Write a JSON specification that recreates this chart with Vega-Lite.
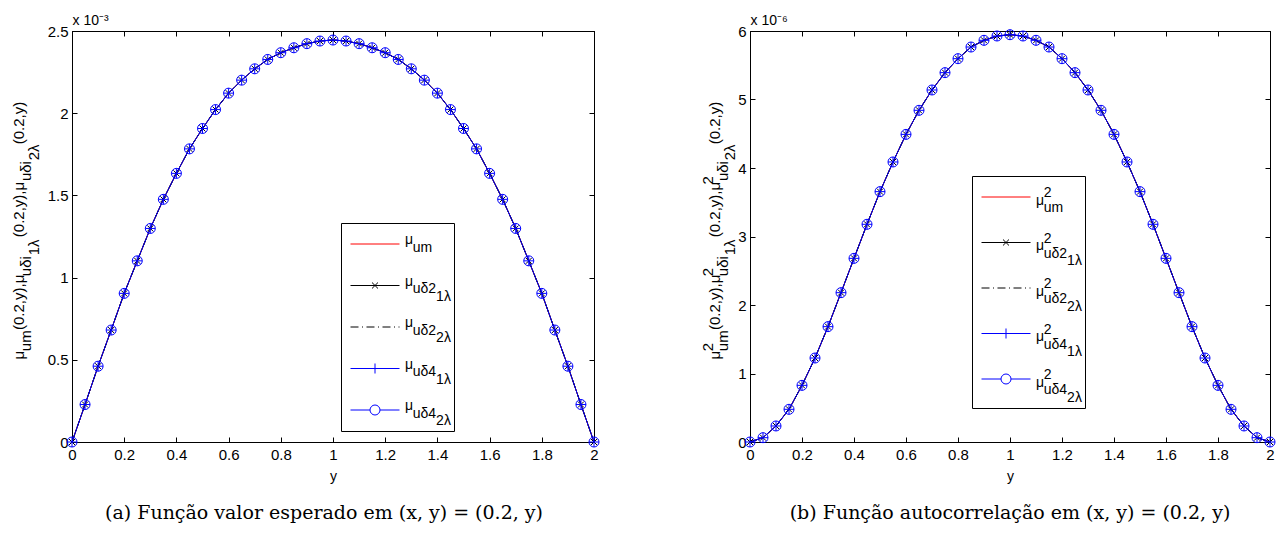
{
  "$schema": "https://vega.github.io/schema/vega-lite/v6.json",
  "background": "white",
  "padding": {"left": 10, "top": 12, "right": 5, "bottom": 5},
  "spacing": 97,
  "datasets": {
    "pts": [
      {"y": 0, "m": 0, "m2": 0},
      {"y": 0.05, "m": 0.228, "m2": 0.063},
      {"y": 0.1, "m": 0.461, "m2": 0.234},
      {"y": 0.15, "m": 0.681, "m2": 0.477},
      {"y": 0.2, "m": 0.904, "m2": 0.827},
      {"y": 0.25, "m": 1.102, "m2": 1.226},
      {"y": 0.3, "m": 1.299, "m2": 1.684},
      {"y": 0.35, "m": 1.476, "m2": 2.18},
      {"y": 0.4, "m": 1.634, "m2": 2.681},
      {"y": 0.45, "m": 1.783, "m2": 3.178},
      {"y": 0.5, "m": 1.907, "m2": 3.655},
      {"y": 0.55, "m": 2.022, "m2": 4.088},
      {"y": 0.6, "m": 2.122, "m2": 4.491},
      {"y": 0.65, "m": 2.201, "m2": 4.842},
      {"y": 0.7, "m": 2.27, "m2": 5.139},
      {"y": 0.75, "m": 2.327, "m2": 5.392},
      {"y": 0.8, "m": 2.368, "m2": 5.596},
      {"y": 0.85, "m": 2.398, "m2": 5.766},
      {"y": 0.9, "m": 2.423, "m2": 5.864},
      {"y": 0.95, "m": 2.439, "m2": 5.927},
      {"y": 1.0, "m": 2.445, "m2": 5.946},
      {"y": 1.05, "m": 2.439, "m2": 5.927},
      {"y": 1.1, "m": 2.423, "m2": 5.864},
      {"y": 1.15, "m": 2.398, "m2": 5.766},
      {"y": 1.2, "m": 2.368, "m2": 5.596},
      {"y": 1.25, "m": 2.327, "m2": 5.392},
      {"y": 1.3, "m": 2.27, "m2": 5.139},
      {"y": 1.35, "m": 2.201, "m2": 4.842},
      {"y": 1.4, "m": 2.122, "m2": 4.491},
      {"y": 1.45, "m": 2.022, "m2": 4.088},
      {"y": 1.5, "m": 1.907, "m2": 3.655},
      {"y": 1.55, "m": 1.783, "m2": 3.178},
      {"y": 1.6, "m": 1.634, "m2": 2.681},
      {"y": 1.65, "m": 1.476, "m2": 2.18},
      {"y": 1.7, "m": 1.299, "m2": 1.684},
      {"y": 1.75, "m": 1.102, "m2": 1.226},
      {"y": 1.8, "m": 0.904, "m2": 0.827},
      {"y": 1.85, "m": 0.681, "m2": 0.477},
      {"y": 1.9, "m": 0.461, "m2": 0.234},
      {"y": 1.95, "m": 0.228, "m2": 0.063},
      {"y": 2.0, "m": 0, "m2": 0}
    ]
  },
  "hconcat": [
    {
      "width": 522,
      "height": 411,
      "title": {"text": "(a) Função valor esperado em (x, y) = (0.2, y)", "orient": "bottom", "anchor": "middle", "offset": 21, "dx": -9},
      "resolve": {"axis": {"x": "independent", "y": "independent"}},
      "layer": [
        {
          "data": {"values": []},
          "mark": {"type": "point", "filled": false, "opacity": 1},
          "encoding": {
            "shape": {"field": "s", "type": "nominal",
              "scale": {"domain": ["a", "b", "c", "d", "e"],
                "range": ["M-0.657,0H2.143",
                  "M-0.657,0H2.143M0.571,-0.171L0.914,0.171M0.571,0.171L0.914,-0.171",
                  "M-0.657,0H-0.2M0,0H0.057M0.257,0H0.714M0.914,0H0.971M1.171,0H1.629M1.829,0H1.886M2.086,0H2.143",
                  "M-0.657,0H2.143M0.743,-0.286V0.286",
                  "M-0.657,0H0.457M1.029,0H2.143M1.029,0A0.286,0.286 0 1,1 0.457,0A0.286,0.286 0 1,1 1.029,0"]},
              "legend": {"orient": "none", "legendX": 269, "legendY": 192, "title": null, "padding": 3, "strokeColor": "black", "fillColor": "white", "symbolSize": 1225, "symbolStrokeWidth": 1, "labelFont": "Liberation Sans", "labelFontSize": 14, "labelColor": "black", "labelOffset": 25, "labelLimit": 300, "rowPadding": 5.5, "labelBaseline": "alphabetic",
                "labelExpr": "datum.label=='a'?['μ','\u200b\u00a0\u00a0um','']:datum.label=='b'?['μ','\u200b\u00a0\u00a0uδ2','\u200b\u00a0\u00a0\u00a0\u00a0\u00a0\u00a0\u00a0\u00a01λ']:datum.label=='c'?['μ','\u200b\u00a0\u00a0uδ2','\u200b\u00a0\u00a0\u00a0\u00a0\u00a0\u00a0\u00a0\u00a02λ']:datum.label=='d'?['μ','\u200b\u00a0\u00a0uδ4','\u200b\u00a0\u00a0\u00a0\u00a0\u00a0\u00a0\u00a0\u00a01λ']:['μ','\u200b\u00a0\u00a0uδ4','\u200b\u00a0\u00a0\u00a0\u00a0\u00a0\u00a0\u00a0\u00a02λ']"}
            },
            "stroke": {"field": "s", "type": "nominal",
              "scale": {"domain": ["a", "b", "c", "d", "e"], "range": ["#ff0000", "#000000", "#000000", "#0000ff", "#0000ff"]},
              "legend": {"orient": "none", "legendX": 269, "legendY": 192, "title": null, "padding": 3, "strokeColor": "black", "fillColor": "white", "symbolSize": 1225, "symbolStrokeWidth": 1, "labelFont": "Liberation Sans", "labelFontSize": 14, "labelColor": "black", "labelOffset": 25, "labelLimit": 300, "rowPadding": 5.5, "labelBaseline": "alphabetic",
                "labelExpr": "datum.label=='a'?['μ','\u200b\u00a0\u00a0um','']:datum.label=='b'?['μ','\u200b\u00a0\u00a0uδ2','\u200b\u00a0\u00a0\u00a0\u00a0\u00a0\u00a0\u00a0\u00a01λ']:datum.label=='c'?['μ','\u200b\u00a0\u00a0uδ2','\u200b\u00a0\u00a0\u00a0\u00a0\u00a0\u00a0\u00a0\u00a02λ']:datum.label=='d'?['μ','\u200b\u00a0\u00a0uδ4','\u200b\u00a0\u00a0\u00a0\u00a0\u00a0\u00a0\u00a0\u00a01λ']:['μ','\u200b\u00a0\u00a0uδ4','\u200b\u00a0\u00a0\u00a0\u00a0\u00a0\u00a0\u00a0\u00a02λ']"}
            }
          }
        },
        {
          "data": {"name": "pts"},
          "mark": {"type": "line", "color": "#ff0000", "strokeWidth": 1},
          "encoding": {
            "x": {"field": "y", "type": "quantitative", "scale": {"domain": [0, 2], "nice": false},
              "axis": {"orient": "bottom", "values": [0, 0.2, 0.4, 0.6, 0.8, 1, 1.2, 1.4, 1.6, 1.8, 2], "format": "~g", "labelFlush": false, "labelOverlap": false, "labelPadding": 10, "title": "y", "titlePadding": 7}},
            "y": {"field": "m", "type": "quantitative", "scale": {"domain": [0, 2.5], "nice": false},
              "axis": {"orient": "left", "values": [0, 0.5, 1, 1.5, 2, 2.5], "format": "~g", "labelFlush": false, "labelOverlap": false, "labelPadding": 9,
                "title": ["μ\u00a0\u00a0\u00a0\u00a0\u00a0(0.2,y),μ\u00a0\u00a0\u00a0\u00a0\u00a0\u00a0\u00a0\u00a0\u00a0(0.2,y),μ\u00a0\u00a0\u00a0\u00a0\u00a0\u00a0\u00a0\u00a0\u00a0(0.2,y)",
                  "\u200b\u00a0\u00a0um\u00a0\u00a0\u00a0\u00a0\u00a0\u00a0\u00a0\u00a0\u00a0\u00a0\u00a0\u00a0\u00a0uδi\u00a0\u00a0\u00a0\u00a0\u00a0\u00a0\u00a0\u00a0\u00a0\u00a0\u00a0\u00a0\u00a0\u00a0\u00a0\u00a0\u00a0\u00a0uδi",
                  "\u200b\u00a0\u00a0\u00a0\u00a0\u00a0\u00a0\u00a0\u00a0\u00a0\u00a0\u00a0\u00a0\u00a0\u00a0\u00a0\u00a0\u00a0\u00a0\u00a0\u00a0\u00a0\u00a0\u00a0\u00a0\u00a01λ\u00a0\u00a0\u00a0\u00a0\u00a0\u00a0\u00a0\u00a0\u00a0\u00a0\u00a0\u00a0\u00a0\u00a0\u00a0\u00a0\u00a0\u00a0\u00a02λ"],
                "titleAngle": 270, "titleAlign": "left", "titleBaseline": "middle", "titleX": -54, "titleY": 328, "titleLineHeight": 7.5, "titleFontSize": 15}}
          }
        },
        {
          "data": {"name": "pts"},
          "mark": {"type": "line", "color": "#000000", "strokeWidth": 1},
          "encoding": {
            "x": {"field": "y", "type": "quantitative", "scale": {"domain": [0, 2], "nice": false},
              "axis": {"orient": "top", "values": [0, 0.2, 0.4, 0.6, 0.8, 1, 1.2, 1.4, 1.6, 1.8, 2], "labels": false, "title": "x 10⁻³", "titleX": 0, "titleY": -7, "titleAlign": "left", "titleBaseline": "alphabetic", "titleAngle": 0, "titleFontSize": 14}},
            "y": {"field": "m", "type": "quantitative", "scale": {"domain": [0, 2.5], "nice": false},
              "axis": {"orient": "right", "values": [0, 0.5, 1, 1.5, 2, 2.5], "labels": false, "title": null}}
          }
        },
        {
          "data": {"name": "pts"},
          "mark": {"type": "point", "shape": "M-1,-1L1,1M-1,1L1,-1", "filled": false, "color": "#000000", "size": 36, "strokeWidth": 1, "opacity": 1},
          "encoding": {
            "x": {"field": "y", "type": "quantitative", "scale": {"domain": [0, 2], "nice": false}, "axis": null},
            "y": {"field": "m", "type": "quantitative", "scale": {"domain": [0, 2.5], "nice": false}, "axis": null}
          }
        },
        {
          "data": {"name": "pts"},
          "mark": {"type": "line", "color": "#000000", "strokeWidth": 1, "strokeDash": [8, 3.5, 1, 3.5]},
          "encoding": {
            "x": {"field": "y", "type": "quantitative", "scale": {"domain": [0, 2], "nice": false}, "axis": null},
            "y": {"field": "m", "type": "quantitative", "scale": {"domain": [0, 2.5], "nice": false}, "axis": null}
          }
        },
        {
          "data": {"name": "pts"},
          "mark": {"type": "line", "color": "#0000ff", "strokeWidth": 1},
          "encoding": {
            "x": {"field": "y", "type": "quantitative", "scale": {"domain": [0, 2], "nice": false}, "axis": null},
            "y": {"field": "m", "type": "quantitative", "scale": {"domain": [0, 2.5], "nice": false}, "axis": null}
          }
        },
        {
          "data": {"name": "pts"},
          "mark": {"type": "point", "shape": "M-1,0H1M0,-1V1", "filled": false, "color": "#0000ff", "size": 100, "strokeWidth": 1, "opacity": 1},
          "encoding": {
            "x": {"field": "y", "type": "quantitative", "scale": {"domain": [0, 2], "nice": false}, "axis": null},
            "y": {"field": "m", "type": "quantitative", "scale": {"domain": [0, 2.5], "nice": false}, "axis": null}
          }
        },
        {
          "data": {"name": "pts"},
          "mark": {"type": "point", "shape": "circle", "filled": false, "color": "#0000ff", "size": 100, "strokeWidth": 1, "opacity": 1},
          "encoding": {
            "x": {"field": "y", "type": "quantitative", "scale": {"domain": [0, 2], "nice": false}, "axis": null},
            "y": {"field": "m", "type": "quantitative", "scale": {"domain": [0, 2.5], "nice": false}, "axis": null}
          }
        }
      ]
    },
    {
      "width": 520,
      "height": 411,
      "title": {"text": "(b) Função autocorrelação em (x, y) = (0.2, y)", "orient": "bottom", "anchor": "middle", "offset": 21, "dx": 0},
      "resolve": {"axis": {"x": "independent", "y": "independent"}},
      "layer": [
        {
          "data": {"values": []},
          "mark": {"type": "point", "filled": false, "opacity": 1},
          "encoding": {
            "shape": {"field": "t", "type": "nominal",
              "scale": {"domain": ["a", "b", "c", "d", "e"],
                "range": ["M-0.657,0H2.143",
                  "M-0.657,0H2.143M0.571,-0.171L0.914,0.171M0.571,0.171L0.914,-0.171",
                  "M-0.657,0H-0.2M0,0H0.057M0.257,0H0.714M0.914,0H0.971M1.171,0H1.629M1.829,0H1.886M2.086,0H2.143",
                  "M-0.657,0H2.143M0.743,-0.286V0.286",
                  "M-0.657,0H0.457M1.029,0H2.143M1.029,0A0.286,0.286 0 1,1 0.457,0A0.286,0.286 0 1,1 1.029,0"]},
              "legend": {"orient": "none", "legendX": 222, "legendY": 145, "title": null, "padding": 3, "strokeColor": "black", "fillColor": "white", "symbolSize": 1225, "symbolStrokeWidth": 1, "labelFont": "Liberation Sans", "labelFontSize": 14, "labelColor": "black", "labelOffset": 25, "labelLimit": 300, "rowPadding": 1.5, "labelBaseline": "alphabetic",
                "labelExpr": "datum.label=='a'?['\u200b\u00a0\u00a02','μ','\u200b\u00a0\u00a0um','']:datum.label=='b'?['\u200b\u00a0\u00a02','μ','\u200b\u00a0\u00a0uδ2','\u200b\u00a0\u00a0\u00a0\u00a0\u00a0\u00a0\u00a0\u00a01λ']:datum.label=='c'?['\u200b\u00a0\u00a02','μ','\u200b\u00a0\u00a0uδ2','\u200b\u00a0\u00a0\u00a0\u00a0\u00a0\u00a0\u00a0\u00a02λ']:datum.label=='d'?['\u200b\u00a0\u00a02','μ','\u200b\u00a0\u00a0uδ4','\u200b\u00a0\u00a0\u00a0\u00a0\u00a0\u00a0\u00a0\u00a01λ']:['\u200b\u00a0\u00a02','μ','\u200b\u00a0\u00a0uδ4','\u200b\u00a0\u00a0\u00a0\u00a0\u00a0\u00a0\u00a0\u00a02λ']"}
            },
            "stroke": {"field": "t", "type": "nominal",
              "scale": {"domain": ["a", "b", "c", "d", "e"], "range": ["#ff0000", "#000000", "#000000", "#0000ff", "#0000ff"]},
              "legend": {"orient": "none", "legendX": 222, "legendY": 145, "title": null, "padding": 3, "strokeColor": "black", "fillColor": "white", "symbolSize": 1225, "symbolStrokeWidth": 1, "labelFont": "Liberation Sans", "labelFontSize": 14, "labelColor": "black", "labelOffset": 25, "labelLimit": 300, "rowPadding": 1.5, "labelBaseline": "alphabetic",
                "labelExpr": "datum.label=='a'?['\u200b\u00a0\u00a02','μ','\u200b\u00a0\u00a0um','']:datum.label=='b'?['\u200b\u00a0\u00a02','μ','\u200b\u00a0\u00a0uδ2','\u200b\u00a0\u00a0\u00a0\u00a0\u00a0\u00a0\u00a0\u00a01λ']:datum.label=='c'?['\u200b\u00a0\u00a02','μ','\u200b\u00a0\u00a0uδ2','\u200b\u00a0\u00a0\u00a0\u00a0\u00a0\u00a0\u00a0\u00a02λ']:datum.label=='d'?['\u200b\u00a0\u00a02','μ','\u200b\u00a0\u00a0uδ4','\u200b\u00a0\u00a0\u00a0\u00a0\u00a0\u00a0\u00a0\u00a01λ']:['\u200b\u00a0\u00a02','μ','\u200b\u00a0\u00a0uδ4','\u200b\u00a0\u00a0\u00a0\u00a0\u00a0\u00a0\u00a0\u00a02λ']"}
            }
          }
        },
        {
          "data": {"name": "pts"},
          "mark": {"type": "line", "color": "#ff0000", "strokeWidth": 1},
          "encoding": {
            "x": {"field": "y", "type": "quantitative", "scale": {"domain": [0, 2], "nice": false},
              "axis": {"orient": "bottom", "values": [0, 0.2, 0.4, 0.6, 0.8, 1, 1.2, 1.4, 1.6, 1.8, 2], "format": "~g", "labelFlush": false, "labelOverlap": false, "labelPadding": 10, "title": "y", "titlePadding": 7}},
            "y": {"field": "m2", "type": "quantitative", "scale": {"domain": [0, 6], "nice": false},
              "axis": {"orient": "left", "values": [0, 1, 2, 3, 4, 5, 6], "format": "~g", "labelFlush": false, "labelOverlap": false, "labelPadding": 9,
                "title": ["\u200b\u00a0\u00a02\u00a0\u00a0\u00a0\u00a0\u00a0\u00a0\u00a0\u00a0\u00a0\u00a0\u00a0\u00a0\u00a0\u00a0\u00a0\u00a02\u00a0\u00a0\u00a0\u00a0\u00a0\u00a0\u00a0\u00a0\u00a0\u00a0\u00a0\u00a0\u00a0\u00a0\u00a0\u00a0\u00a0\u00a0\u00a0\u00a02",
                  "μ\u00a0\u00a0\u00a0\u00a0\u00a0(0.2,y),μ\u00a0\u00a0\u00a0\u00a0\u00a0\u00a0\u00a0\u00a0\u00a0(0.2,y),μ\u00a0\u00a0\u00a0\u00a0\u00a0\u00a0\u00a0\u00a0\u00a0(0.2,y)",
                  "\u200b\u00a0\u00a0um\u00a0\u00a0\u00a0\u00a0\u00a0\u00a0\u00a0\u00a0\u00a0\u00a0\u00a0\u00a0\u00a0uδi\u00a0\u00a0\u00a0\u00a0\u00a0\u00a0\u00a0\u00a0\u00a0\u00a0\u00a0\u00a0\u00a0\u00a0\u00a0\u00a0\u00a0\u00a0uδi",
                  "\u200b\u00a0\u00a0\u00a0\u00a0\u00a0\u00a0\u00a0\u00a0\u00a0\u00a0\u00a0\u00a0\u00a0\u00a0\u00a0\u00a0\u00a0\u00a0\u00a0\u00a0\u00a0\u00a0\u00a0\u00a0\u00a01λ\u00a0\u00a0\u00a0\u00a0\u00a0\u00a0\u00a0\u00a0\u00a0\u00a0\u00a0\u00a0\u00a0\u00a0\u00a0\u00a0\u00a0\u00a0\u00a02λ"],
                "titleAngle": 270, "titleAlign": "left", "titleBaseline": "middle", "titleX": -43, "titleY": 328, "titleLineHeight": 7.5, "titleFontSize": 15}}
          }
        },
        {
          "data": {"name": "pts"},
          "mark": {"type": "line", "color": "#000000", "strokeWidth": 1},
          "encoding": {
            "x": {"field": "y", "type": "quantitative", "scale": {"domain": [0, 2], "nice": false},
              "axis": {"orient": "top", "values": [0, 0.2, 0.4, 0.6, 0.8, 1, 1.2, 1.4, 1.6, 1.8, 2], "labels": false, "title": "x 10⁻⁶", "titleX": 0, "titleY": -7, "titleAlign": "left", "titleBaseline": "alphabetic", "titleAngle": 0, "titleFontSize": 14}},
            "y": {"field": "m2", "type": "quantitative", "scale": {"domain": [0, 6], "nice": false},
              "axis": {"orient": "right", "values": [0, 1, 2, 3, 4, 5, 6], "labels": false, "title": null}}
          }
        },
        {
          "data": {"name": "pts"},
          "mark": {"type": "point", "shape": "M-1,-1L1,1M-1,1L1,-1", "filled": false, "color": "#000000", "size": 36, "strokeWidth": 1, "opacity": 1},
          "encoding": {
            "x": {"field": "y", "type": "quantitative", "scale": {"domain": [0, 2], "nice": false}, "axis": null},
            "y": {"field": "m2", "type": "quantitative", "scale": {"domain": [0, 6], "nice": false}, "axis": null}
          }
        },
        {
          "data": {"name": "pts"},
          "mark": {"type": "line", "color": "#000000", "strokeWidth": 1, "strokeDash": [8, 3.5, 1, 3.5]},
          "encoding": {
            "x": {"field": "y", "type": "quantitative", "scale": {"domain": [0, 2], "nice": false}, "axis": null},
            "y": {"field": "m2", "type": "quantitative", "scale": {"domain": [0, 6], "nice": false}, "axis": null}
          }
        },
        {
          "data": {"name": "pts"},
          "mark": {"type": "line", "color": "#0000ff", "strokeWidth": 1},
          "encoding": {
            "x": {"field": "y", "type": "quantitative", "scale": {"domain": [0, 2], "nice": false}, "axis": null},
            "y": {"field": "m2", "type": "quantitative", "scale": {"domain": [0, 6], "nice": false}, "axis": null}
          }
        },
        {
          "data": {"name": "pts"},
          "mark": {"type": "point", "shape": "M-1,0H1M0,-1V1", "filled": false, "color": "#0000ff", "size": 100, "strokeWidth": 1, "opacity": 1},
          "encoding": {
            "x": {"field": "y", "type": "quantitative", "scale": {"domain": [0, 2], "nice": false}, "axis": null},
            "y": {"field": "m2", "type": "quantitative", "scale": {"domain": [0, 6], "nice": false}, "axis": null}
          }
        },
        {
          "data": {"name": "pts"},
          "mark": {"type": "point", "shape": "circle", "filled": false, "color": "#0000ff", "size": 100, "strokeWidth": 1, "opacity": 1},
          "encoding": {
            "x": {"field": "y", "type": "quantitative", "scale": {"domain": [0, 2], "nice": false}, "axis": null},
            "y": {"field": "m2", "type": "quantitative", "scale": {"domain": [0, 6], "nice": false}, "axis": null}
          }
        }
      ]
    }
  ],
  "resolve": {"scale": {"shape": "independent", "stroke": "independent"}, "legend": {"shape": "independent", "stroke": "independent"}},
  "config": {
    "font": "Liberation Sans",
    "view": {"stroke": "black", "strokeWidth": 1},
    "axis": {"grid": false, "domainColor": "black", "tickColor": "black", "labelColor": "black", "titleColor": "black", "labelFont": "Liberation Sans", "titleFont": "Liberation Sans", "labelFontSize": 15, "titleFontSize": 14, "titleFontWeight": "normal", "tickSize": -5, "labelPadding": 4, "domainWidth": 1, "tickWidth": 1, "labelOverlap": false, "labelFlush": false, "labelBound": false},
    "style": {"guide-label": {"lineHeight": 7.5}},
    "title": {"font": "DejaVu Serif", "fontSize": 19, "fontWeight": "normal", "color": "black"}
  }
}
